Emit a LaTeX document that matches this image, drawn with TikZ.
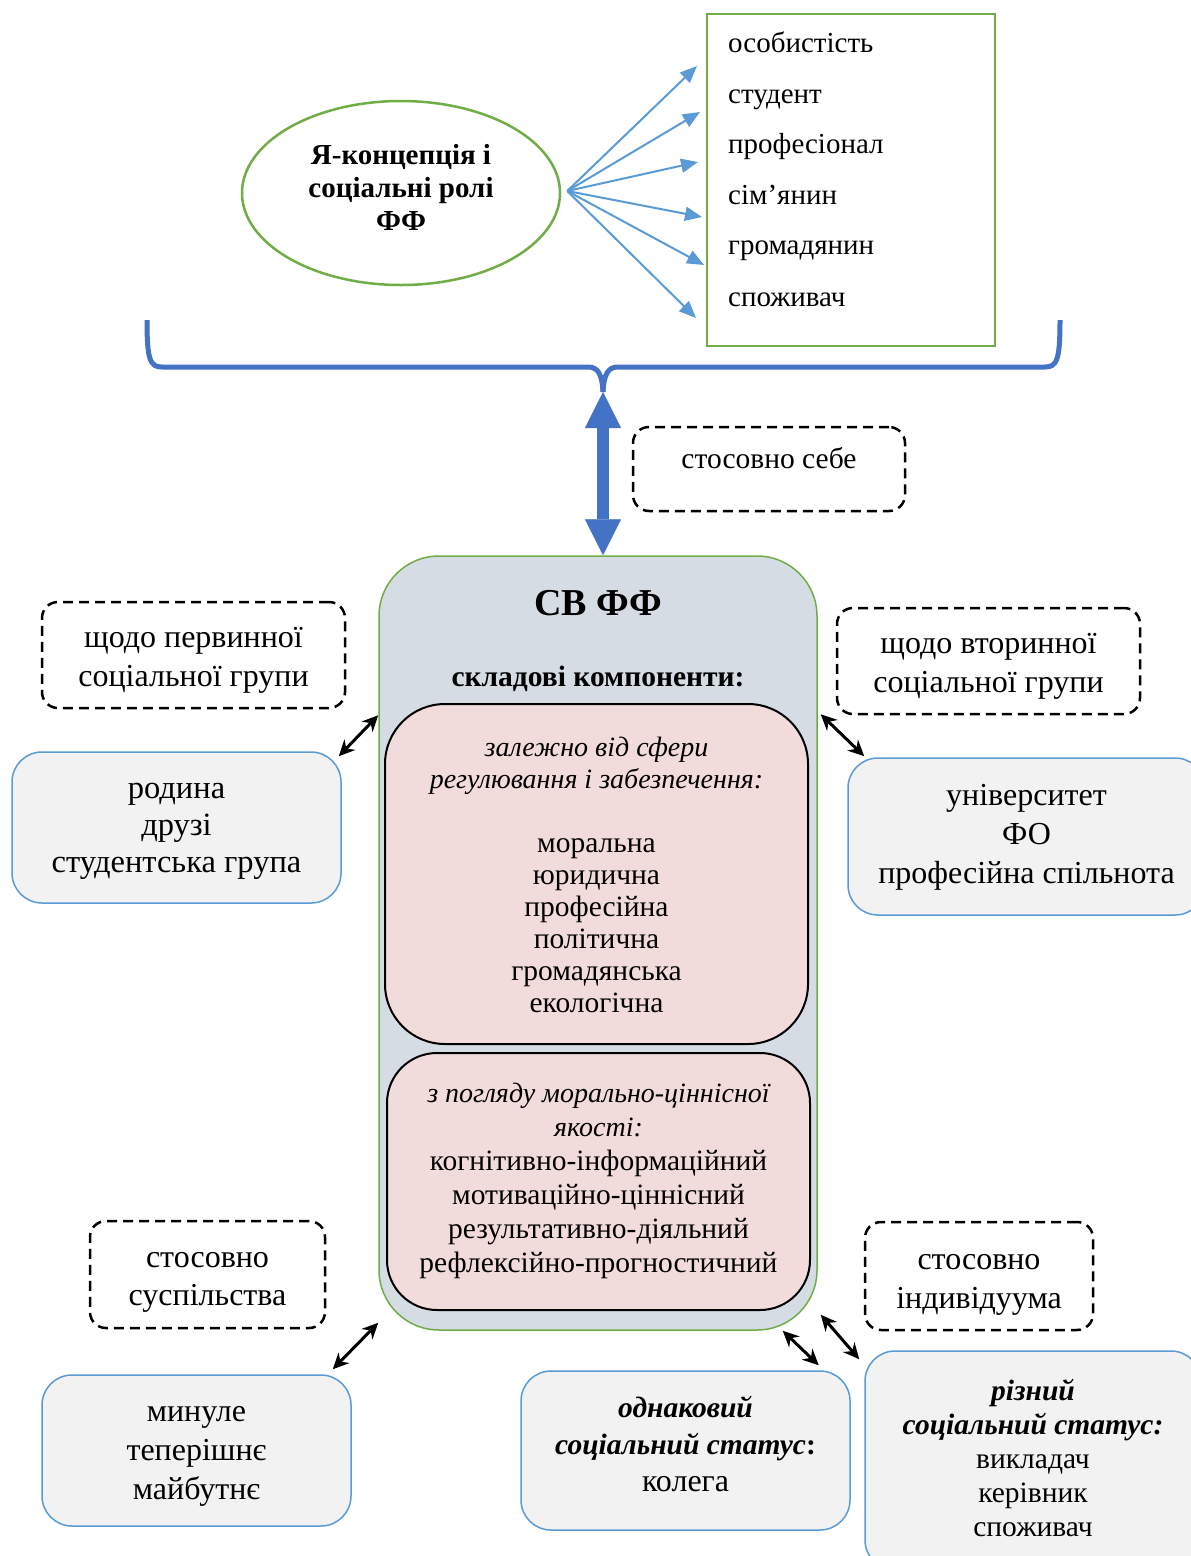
\documentclass[tikz,border=0pt]{standalone}
\usepackage{fontspec}
\setmainfont{Liberation Serif}
\usetikzlibrary{arrows.meta,shapes.geometric,calc}
\definecolor{leaf}{HTML}{70AD47}
\definecolor{sky}{HTML}{5B9BD5}
\definecolor{royal}{HTML}{4472C4}
\definecolor{slatefill}{HTML}{D6DCE4}
\definecolor{rosefill}{HTML}{F2DCDB}
\definecolor{mist}{HTML}{F2F2F2}
\newcommand\fsz[2]{\fontsize{#1}{#2}\selectfont}

\begin{document}
\begin{tikzpicture}[x=1pt,y=-1pt,
  txt/.style={align=center,inner sep=0pt,
    execute at begin node=\strut,execute at end node=\strut},
  dashbox/.style={draw=black,dash pattern=on 10pt off 6pt,line width=2.5pt,
    rounded corners=16pt,inner sep=0pt},
  graybox/.style={draw=sky,fill=mist,line width=1.5pt,rounded corners=30pt,inner sep=0pt},
  pinkbox/.style={draw=black,fill=rosefill,line width=2pt,inner sep=0pt},
  role/.style={anchor=base west,inner sep=0pt,font=\fsz{29}{32}},
  rolearrow/.style={draw=sky,line width=2pt,-{Triangle[length=17pt,width=14pt]}},
  link/.style={draw=black,line width=3pt,
    {Stealth[length=16pt,width=15pt]}-{Stealth[length=16pt,width=15pt]}},
  bracepath/.style={draw=royal,line width=5pt},
]
\fill[white] (0,0) rectangle (1191,1556);
\useasboundingbox (0,0) rectangle (1191,1556);
\clip (0,0) rectangle (1191,1556);

% self-concept and roles
\node[ellipse,draw=leaf,line width=2.5pt,minimum width=318pt,minimum height=184pt]
  (self) at (401,193) {};
\node[txt,font=\bfseries\fsz{29}{33}] (selftxt) at (401,192.5)
  {Я-концепція і\\соціальні ролі\\ФФ};
\node[draw=leaf,line width=2.5pt,minimum width=288pt,minimum height=332pt,inner sep=0pt]
  (roles) at (851,180) {};
\node[role] (r1) at (728,52)  {особистість};
\node[role] (r2) at (728,103) {студент};
\node[role] (r3) at (728,153) {професіонал};
\node[role] (r4) at (728,204) {сім’янин};
\node[role] (r5) at (728,254) {громадянин};
\node[role] (r6) at (728,306) {споживач};

\coordinate (hub) at ($(self.east)+(6,-2)$);
\coordinate (t1) at (697,66);
\coordinate (t2) at (700,112);
\coordinate (t3) at (698,162);
\coordinate (t4) at (702,217);
\coordinate (t5) at (704,265);
\coordinate (t6) at (696,318);
\foreach \t in {t1,t2,t3,t4,t5,t6}
  \draw[rolearrow] (hub) -- (\t);

% brace
\coordinate (bl) at (147,320);
\coordinate (br) at (1060,320);
\coordinate (btip) at (603,392);
\draw[bracepath] (bl) .. controls (147,360) and (150,367) .. (162,367) -- (588,367)
  .. controls (598,367) and (602,374) .. (btip);
\draw[bracepath] (br) .. controls (1060,360) and (1057,367) .. (1045,367) -- (618,367)
  .. controls (608,367) and (604,374) .. (btip);

% central block
\node[draw=leaf,fill=slatefill,line width=1.5pt,rounded corners=60pt,
  minimum width=438pt,minimum height=774pt,inner sep=0pt] (svff) at (598,943) {};
\node[font=\bfseries\fsz{38}{44}] (ttl) at (598,603) {СВ ФФ};
\node[font=\bfseries\fsz{29.5}{32}] (sub) at (598,679) {складові компоненти:};
\node[pinkbox,rounded corners=60pt,minimum width=423pt,minimum height=340pt] (p1) at (596.5,874) {};
\node[txt,font=\fsz{29.5}{32}] (p1txt) at (596.5,880)
  {{\fontsize{28}{32}\selectfont\itshape залежно від сфери}\\
   {\fontsize{28}{32}\selectfont\itshape регулювання і забезпечення:}\\[32pt]
   моральна\\юридична\\професійна\\політична\\громадянська\\екологічна};
\node[pinkbox,rounded corners=50pt,minimum width=423pt,minimum height=257pt] (p2) at (598.5,1181.5) {};
\node[txt,font=\fsz{29.5}{34}] (p2txt) at (598.5,1182.5)
  {{\fontsize{28}{34}\selectfont\itshape з погляду морально-ціннісної}\\
   {\fontsize{28}{34}\selectfont\itshape якості:}\\когнітивно-інформаційний\\
   мотиваційно-ціннісний\\результативно-діяльний\\рефлексійно-прогностичний};

\draw[royal,line width=12pt,
  {Triangle[length=36pt,width=36pt,line width=0.5pt]}-{Triangle[length=36pt,width=36pt,line width=0.5pt]}]
  (btip) -- (btip |- svff.north);

\node[dashbox,minimum width=272pt,minimum height=84pt] (dself) at (769,469) {};
\node[txt,font=\fsz{29.5}{34}] (lself) at (769,462) {стосовно себе};

% surrounding groups
\node[dashbox,minimum width=303pt,minimum height=106pt] (d1) at (193.5,655) {};
\node[txt,font=\fsz{32}{39}] (d1txt) at (193.5,662.5) {щодо первинної\\соціальної групи};
\node[graybox,minimum width=329pt,minimum height=151pt] (g1) at (176.5,827.5) {};
\node[txt,font=\fsz{32.5}{37}] (g1txt) at (176.5,833) {родина\\друзі\\студентська група};
\node[dashbox,minimum width=303pt,minimum height=106pt] (d2) at (988.5,661) {};
\node[txt,font=\fsz{32}{39}] (d2txt) at (988.5,668.5) {щодо вторинної\\соціальної групи};
\node[graybox,minimum width=357pt,minimum height=157pt] (g2) at (1026.5,836.5) {};
\node[txt,font=\fsz{32}{39}] (g2txt) at (1026.5,839.5) {університет\\ФО\\професійна спільнота};
\node[dashbox,minimum width=235pt,minimum height=107pt] (d3) at (207.5,1274.5) {};
\node[txt,font=\fsz{32}{38}] (d3txt) at (207.5,1284.5) {стосовно\\суспільства};
\node[graybox,minimum width=309pt,minimum height=151pt] (g3) at (196.5,1450.5) {};
\node[txt,font=\fsz{32}{39}] (g3txt) at (196.5,1459) {минуле\\теперішнє\\майбутнє};
\node[dashbox,minimum width=228pt,minimum height=108pt] (d4) at (979,1276) {};
\node[txt,font=\fsz{32}{39}] (d4txt) at (979,1287) {стосовно\\індивідуума};
\node[graybox,minimum width=329pt,minimum height=159pt] (g4) at (685.5,1450.5) {};
\node[txt,font=\fsz{29.5}{37}] (g4txt) at (685.5,1449)
  {\textbf{\textit{однаковий}}\\\textbf{\textit{соціальний статус}}\textbf{:}\\
   {\fontsize{32}{37}\selectfont колега}};
\node[graybox,minimum width=336pt,minimum height=219pt] (g5) at (1033,1460.5) {};
\node[txt,font=\fsz{29.5}{34}] (g5txt) at (1033,1462.5)
  {\textbf{\textit{різний}}\\\textbf{\textit{соціальний статус:}}\\викладач\\керівник\\споживач};

% links
\draw[link] ($(svff.north west)+(0,160)$) -- ($(g1.north east)+(-3,5)$);
\draw[link] ($(svff.north east)+(3,159)$) -- ($(g2.north west)+(17,-1)$);
\draw[link] ($(svff.south west)+(0,-8)$) -- ($(g3.north east)+(-19,-5)$);
\draw[link] ($(svff.south east)+(-35,0)$) -- ($(g4.north east)+(-32,-5)$);
\draw[link] ($(svff.south east)+(3,-16)$) -- ($(g5.north west)+(-5,9)$);
\end{tikzpicture}
\end{document}
